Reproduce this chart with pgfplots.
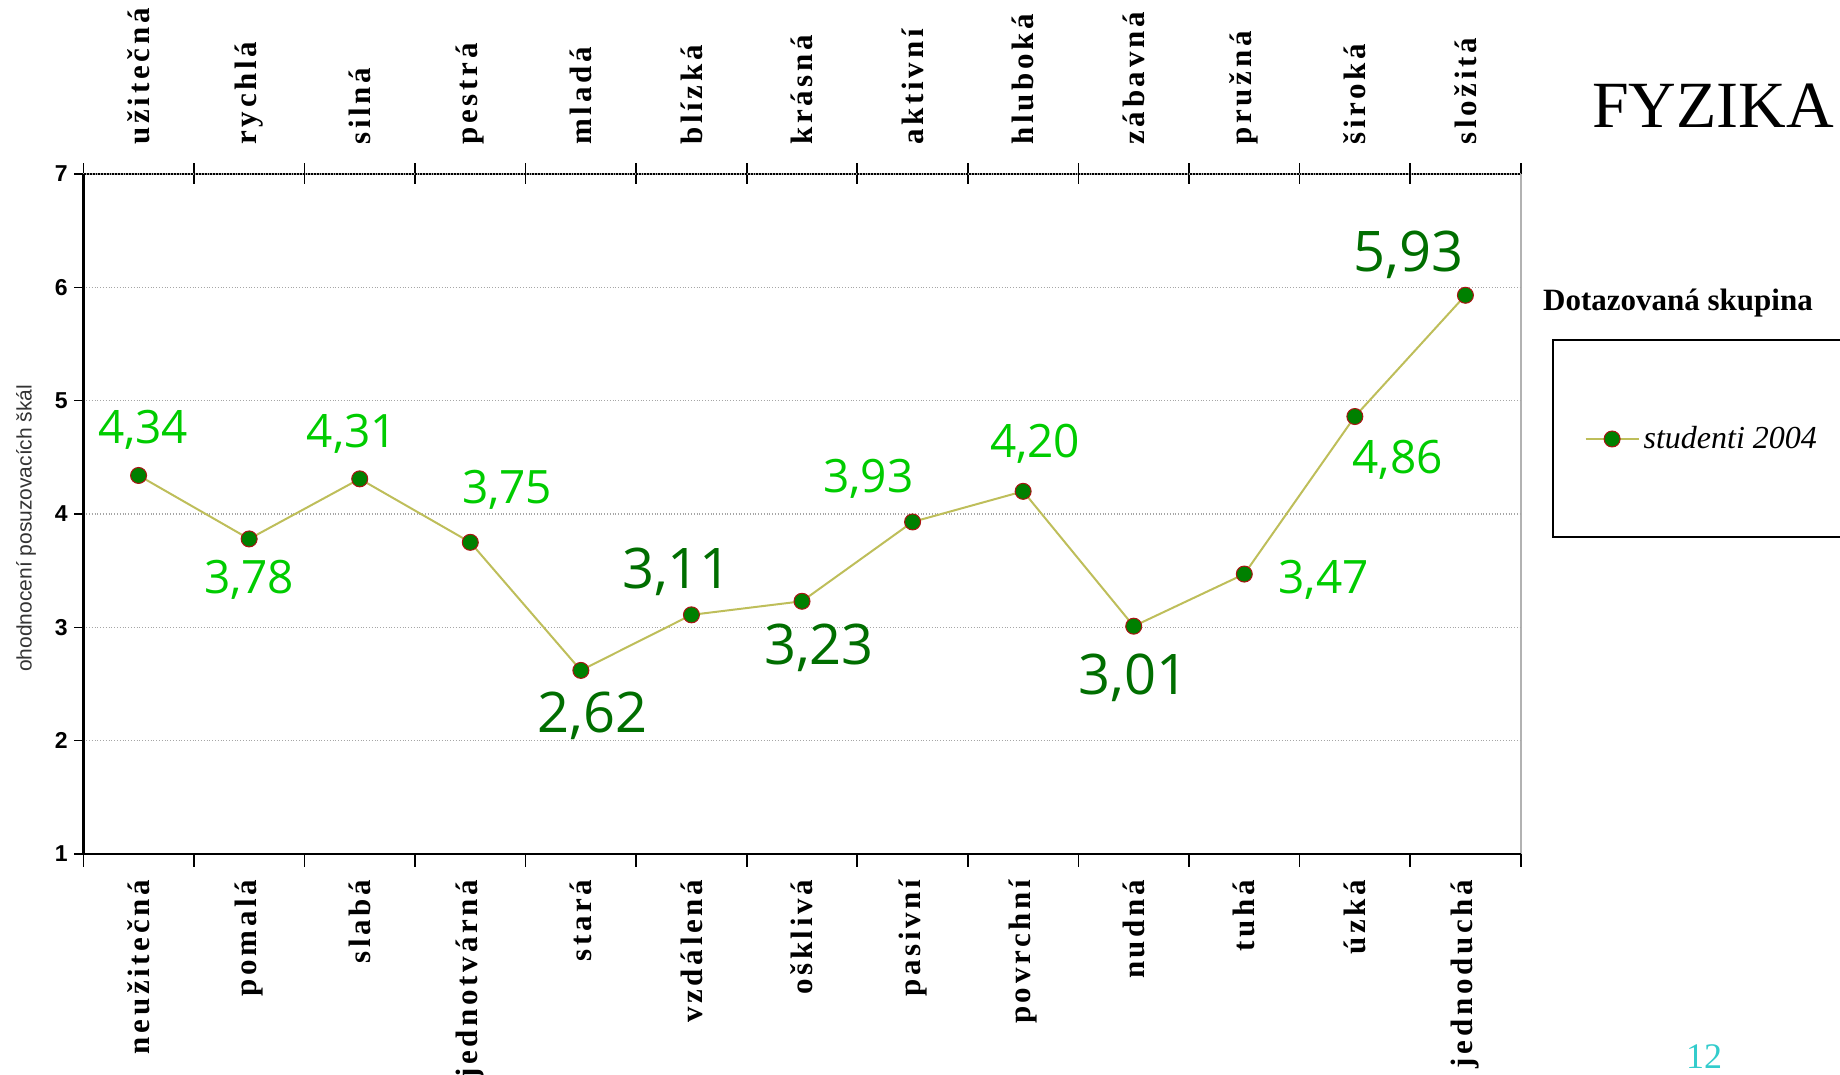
\documentclass[border=0pt]{standalone}
\usepackage{fontspec}
\setmainfont{Liberation Serif}
\newfontfamily\arialfont{Liberation Sans}
\newfontfamily\tickfont[LetterSpace=12]{Liberation Serif}
\newfontfamily\comicfont{Open Sans}
\usepackage{pgfplots}
\pgfplotsset{compat=1.18}

\definecolor{linecol}{RGB}{190,190,90}
\definecolor{markgreen}{RGB}{0,128,0}
\definecolor{markred}{RGB}{170,20,20}
\definecolor{lightlbl}{RGB}{0,204,0}
\definecolor{darklbl}{RGB}{0,110,0}
\definecolor{pagecyan}{RGB}{51,204,204}

% value labels: light (small) and dark (large)
\newcommand{\lt}[4]{\node[font=\comicfont\fontsize{23}{24}\selectfont, text=lightlbl, inner sep=0pt] at (axis cs:#1) [xshift=#2pt, yshift=#3pt] {#4};}
\newcommand{\dk}[4]{\node[font=\comicfont\fontsize{28}{30}\selectfont, text=darklbl, inner sep=0pt] at (axis cs:#1) [xshift=#2pt, yshift=#3pt] {#4};}

\pgfplotsset{
  common/.style={
    at={(41.65pt,110.5pt)}, anchor=south west,
    scale only axis, width=718.7pt, height=340pt,
    xmin=-0.5, xmax=12.5, ymin=1, ymax=7,
    xtick={-0.5,0.5,...,12.5},
    x tick label as interval,
  },
}

\begin{document}
\begin{tikzpicture}
\path[use as bounding box] (0,0) rectangle (920pt,537.5pt);

% top axis: upper labels and top/right frame
\begin{axis}[
  common,
  axis x line*=top, axis y line*=right,
  x axis line style={-, line width=1.2pt, black},
  y axis line style={-, line width=0.8pt, gray!60},
  ytick=\empty,
  tick align=center,
  xtick style={/pgfplots/major tick length=10.5pt, black, line width=0.8pt},
  xticklabels={užitečná,rychlá,silná,pestrá,mladá,blízká,krásná,aktivní,hluboká,zábavná,pružná,široká,složitá},
  xticklabel style={rotate=90, anchor=west, xshift=9pt, font=\tickfont\bfseries\fontsize{15.5}{17}\selectfont},
]
\end{axis}

\begin{axis}[
  common,
  axis x line*=bottom, axis y line*=left,
  axis line style={-, line width=1.2pt, black},
  tick align=outside,
  xtick style={/pgfplots/major tick length=6.5pt, black, line width=0.8pt},
  ytick style={/pgfplots/major tick length=4.5pt, black, line width=0.8pt},
  xticklabels={neužitečná,pomalá,slabá,jednotvárná,stará,vzdálená,ošklivá,pasivní,povrchní,nudná,tuhá,úzká,jednoduchá},
  xticklabel style={rotate=90, anchor=east, xshift=-5pt, font=\tickfont\bfseries\fontsize{15.5}{17}\selectfont},
  ytick={1,...,7},
  yticklabel style={font=\arialfont\bfseries\fontsize{11.5}{12}\selectfont},
  /pgf/number format/assume math mode=true,
  ymajorgrids,
  grid style={densely dotted, gray!70, line width=0.7pt},
  ylabel={ohodnocení posuzovacích škál},
  ylabel style={at={(axis description cs:-0.0398,0.479)}, anchor=center, font=\arialfont\fontsize{10.5}{12}\selectfont, text=black!80},
  clip=false,
  legend cell align=left,
  legend image code/.code={\draw[mark repeat=2,mark phase=2,#1] plot coordinates {(0cm,0cm) (0.465cm,0cm) (0.93cm,0cm)};},
  legend style={at={(axis description cs:1.0442,0.6103)}, anchor=west, draw=none, fill=none, inner sep=0pt, font=\fontsize{16}{18}\selectfont\itshape},
]
\addplot[color=linecol, line width=1pt, mark=*, mark size=4pt,
  mark options={fill=markgreen, draw=markred, line width=0.5pt}]
  coordinates {
  (0,4.34) (1,3.78) (2,4.31) (3,3.75) (4,2.62) (5,3.11) (6,3.23)
  (7,3.93) (8,4.20) (9,3.01) (10,3.47) (11,4.86) (12,5.93)
  };
\addlegendentry{studenti 2004}

\lt{0,4.34}{2.3}{23}{4,34}
\lt{1,3.78}{0}{-20.4}{3,78}
\lt{2,4.31}{-3.9}{22.4}{4,31}
\lt{3,3.75}{18.4}{26.5}{3,75}
\dk{4,2.62}{5.9}{-22.7}{2,62}
\dk{5,3.11}{-7.2}{21.7}{3,11}
\dk{6,3.23}{8.5}{-23.3}{3,23}
\lt{7,3.93}{-22.1}{21.5}{3,93}
\lt{8,4.20}{6}{23.9}{4,20}
\dk{9,3.01}{0}{-26}{3,01}
\lt{10,3.47}{39.7}{-2.8}{3,47}
\lt{11,4.86}{21.4}{-21.8}{4,86}
\dk{12,5.93}{-28.6}{20.4}{5,93}
\end{axis}

% legend frame, legend title, slide title and page number
\draw[line width=1pt] (776.3pt,268.75pt) rectangle (935pt,367.4pt);
\node[font=\bfseries\fontsize{15.5}{18}\selectfont] at (839pt,386.1pt) {Dotazovaná skupina};
\node[font=\fontsize{33}{36}\selectfont] at (856.6pt,484.7pt) {FYZIKA};
\node[font=\fontsize{18}{20}\selectfont, text=pagecyan, anchor=base, inner sep=0pt] at (852pt,3pt) {12};
\end{tikzpicture}
\end{document}
